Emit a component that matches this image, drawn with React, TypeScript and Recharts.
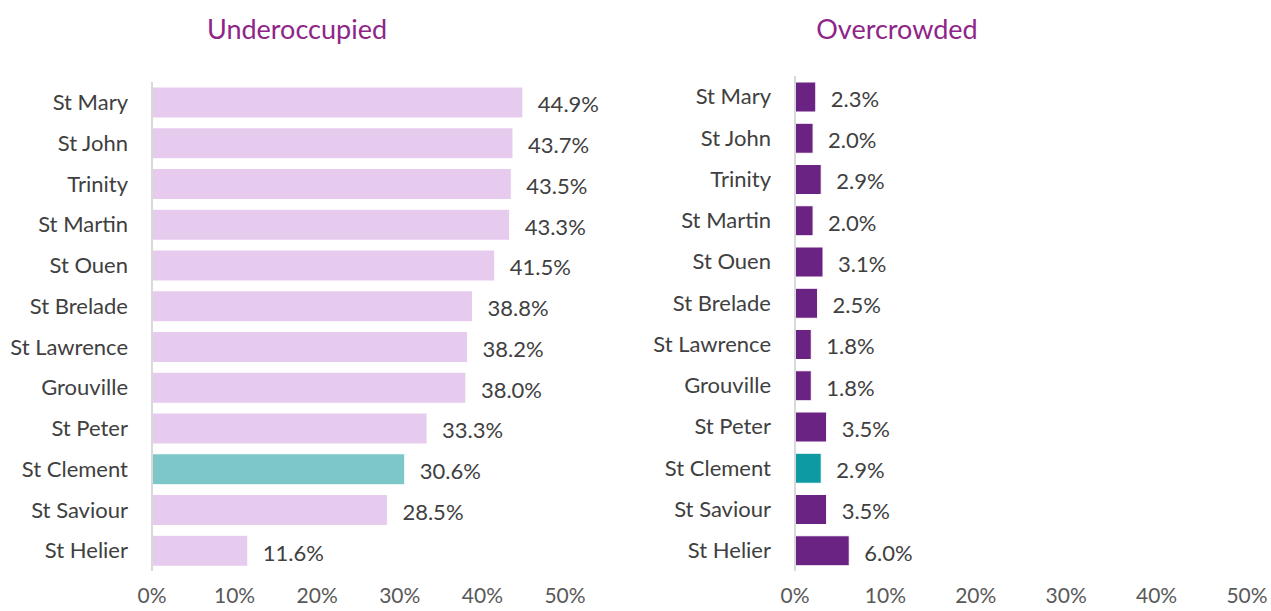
import { BarChart, Bar, XAxis, YAxis, Cell, LabelList } from "recharts";

const parishes = [
    "St Mary", "St John", "Trinity", "St Martin", "St Ouen", "St Brelade",
    "St Lawrence", "Grouville", "St Peter", "St Clement", "St Saviour", "St Helier",
];
const underoccupied = [44.9, 43.7, 43.5, 43.3, 41.5, 38.8, 38.2, 38.0, 33.3, 30.6, 28.5, 11.6];
const overcrowded = [2.3, 2.0, 2.9, 2.0, 3.1, 2.5, 1.8, 1.8, 3.5, 2.9, 3.5, 6.0];
const xTicks = [0, 10, 20, 30, 40, 50];
const highlight = "St Clement";

const FONT = "Lato, 'Open Sans', sans-serif";

interface PanelProps {
    title: string;
    values: number[];
    color: string;
    highlightColor: string;
    left: number;
    width: number;
    axisWidth: number;
    marginRight: number;
    top: number;
    plotBottom: number;
    barSize: number;
    titleX: number;
}

function Panel({ title, values, color, highlightColor, left, width, axisWidth, marginRight, top, plotBottom, barSize, titleX }: PanelProps) {
    const data = parishes.map((name, i) => ({ name, value: values[i] }));
    return (
        <div style={{ position: "absolute", left, top: 0, width, height: 611 }}>
            <div
                style={{
                    position: "absolute",
                    left: titleX - left - 150,
                    width: 300,
                    top: 12,
                    textAlign: "center",
                    fontFamily: FONT,
                    fontSize: 27,
                    color: "#8E2589",
                }}
            >
                {title}
            </div>
            <BarChart
                width={width}
                height={611}
                data={data}
                layout="vertical"
                margin={{ top, right: marginRight, left: 0, bottom: 0 }}
            >
                <XAxis
                    type="number"
                    domain={[0, 50]}
                    ticks={xTicks}
                    tickFormatter={(v) => `${v}%`}
                    axisLine={false}
                    tickLine={false}
                    tick={{ fontSize: 21, fill: "#595959", fontFamily: FONT }}
                    tickMargin={11}
                    height={611 - plotBottom}
                    interval={0}
                />
                <YAxis
                    type="category"
                    dataKey="name"
                    width={axisWidth}
                    axisLine={{ stroke: "#D9D9D9", strokeWidth: 2 }}
                    tickLine={false}
                    tickMargin={18}
                    tick={{ fontSize: 22, fill: "#404040", fontFamily: FONT }}
                    interval={0}
                />
                <Bar dataKey="value" barSize={barSize} isAnimationActive={false} stroke="#ffffff" strokeWidth={1}>
                    {data.map((d) => (
                        <Cell key={d.name} fill={d.name === highlight ? highlightColor : color} />
                    ))}
                    <LabelList
                        dataKey="value"
                        position="right"
                        offset={15}
                        dy={2}
                        formatter={(v: any) => `${Number(v).toFixed(1)}%`}
                        style={{ fontSize: 22, fill: "#404040", fontFamily: FONT }}
                    />
                </Bar>
            </BarChart>
        </div>
    );
}

export default function App() {
    return (
        <div style={{ position: "absolute", left: 0, top: 0, width: 1271, height: 611, background: "#fff", overflow: "hidden" }}>
            <Panel
                title="Underoccupied"
                values={underoccupied}
                color="#E6CBEF"
                highlightColor="#7EC7C8"
                left={0}
                width={620}
                axisWidth={152}
                marginRight={55}
                top={82}
                plotBottom={571}
                barSize={31}
                titleX={297}
            />
            <Panel
                title="Overcrowded"
                values={overcrowded}
                color="#6B2383"
                highlightColor="#0E9AA3"
                left={640}
                width={631}
                axisWidth={155}
                marginRight={24}
                top={76}
                plotBottom={571}
                barSize={30}
                titleX={897}
            />
        </div>
    );
}
